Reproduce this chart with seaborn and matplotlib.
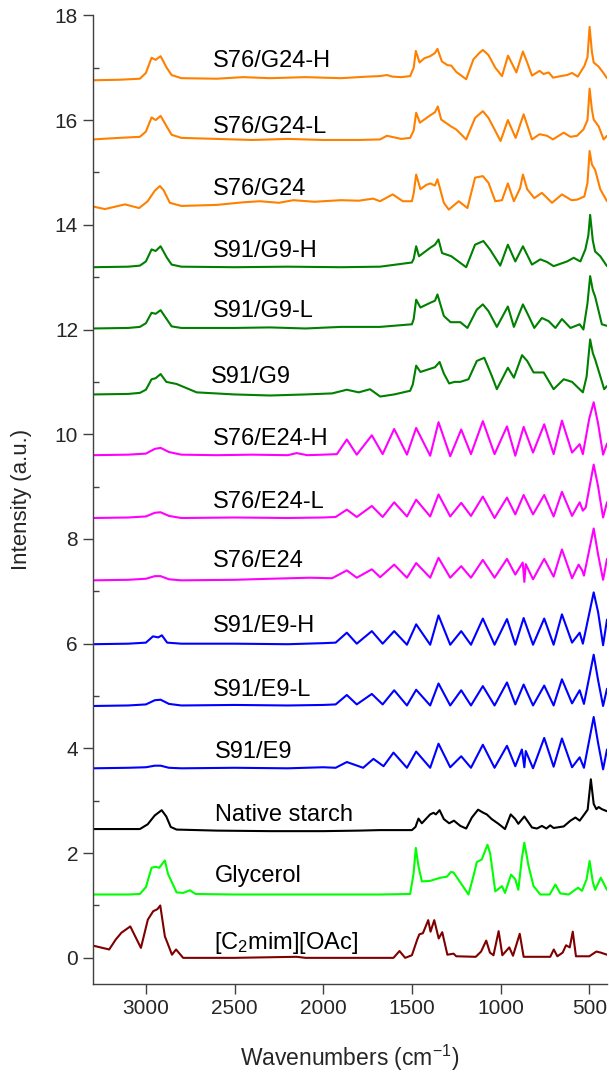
import numpy as np
import pandas as pd
import matplotlib
matplotlib.use("Agg")
import matplotlib.pyplot as plt
import seaborn as sns
from matplotlib.ticker import MultipleLocator

# spectra: (wavenumber, intensity) pairs, already stacked
s76_g24_h = [(3300, 16.76), (3150, 16.77), (3034, 16.79), (3000, 16.9), (2968, 17.19), (2945, 17.15),
             (2917, 17.22), (2883, 17.0), (2855, 16.86), (2800, 16.80), (2600, 16.79), (2452, 16.82),
             (2300, 16.80), (2100, 16.82), (1900, 16.80), (1750, 16.83), (1680, 16.84), (1641, 16.86),
             (1610, 16.83), (1560, 16.82), (1510, 16.84), (1490, 17.0), (1478, 17.32), (1457, 17.10),
             (1430, 17.18), (1397, 17.22), (1370, 17.28), (1356, 17.36), (1331, 17.12), (1300, 17.05),
             (1278, 17.04), (1250, 16.92), (1194, 16.78), (1153, 17.16), (1120, 17.28), (1100, 17.34),
             (1068, 17.24), (1030, 17.0), (992, 16.84), (958, 17.23), (911, 16.91), (874, 17.31),
             (850, 17.1), (823, 16.85), (780, 16.94), (758, 16.88), (729, 16.91), (704, 16.81),
             (660, 16.84), (625, 16.86), (597, 16.90), (565, 16.83), (528, 17.03), (510, 17.2),
             (498, 17.78), (485, 17.3), (475, 17.1), (447, 17.02), (420, 16.9), (400, 16.80)]

s76_g24_l = [(3300, 15.63), (3150, 15.66), (3034, 15.68), (3000, 15.78), (2968, 16.05), (2945, 16.0),
             (2917, 16.08), (2883, 15.88), (2855, 15.72), (2800, 15.66), (2600, 15.64), (2400, 15.62),
             (2200, 15.64), (2000, 15.62), (1800, 15.62), (1680, 15.63), (1641, 15.70), (1560, 15.64),
             (1510, 15.66), (1490, 15.8), (1476, 16.14), (1455, 15.95), (1397, 16.09), (1370, 16.15),
             (1354, 16.26), (1335, 16.01), (1280, 15.88), (1250, 15.82), (1194, 15.63), (1144, 16.04),
             (1100, 16.17), (1068, 16.04), (1000, 15.60), (959, 16.0), (915, 15.66), (870, 16.11),
             (823, 15.63), (780, 15.73), (738, 15.70), (705, 15.63), (644, 15.76), (606, 15.68),
             (569, 15.70), (533, 15.82), (510, 16.0), (498, 16.60), (485, 16.2), (475, 16.01),
             (447, 15.88), (419, 15.63), (400, 15.70)]

s76_g24 = [(3300, 14.35), (3231, 14.30), (3118, 14.39), (3038, 14.32), (2990, 14.45), (2950, 14.65),
           (2921, 14.74), (2900, 14.66), (2865, 14.42), (2800, 14.36), (2600, 14.38), (2450, 14.43),
           (2357, 14.45), (2250, 14.42), (2169, 14.47), (2050, 14.44), (1900, 14.47), (1800, 14.46),
           (1719, 14.50), (1680, 14.45), (1608, 14.58), (1551, 14.45), (1500, 14.45), (1490, 14.6),
           (1476, 14.96), (1452, 14.68), (1420, 14.76), (1397, 14.79), (1370, 14.75), (1356, 14.87),
           (1320, 14.42), (1292, 14.29), (1236, 14.45), (1187, 14.32), (1144, 14.90), (1100, 14.93),
           (1068, 14.80), (1030, 14.45), (992, 14.47), (959, 14.79), (925, 14.45), (890, 14.7),
           (874, 14.96), (850, 14.68), (810, 14.51), (767, 14.61), (710, 14.42), (654, 14.58),
           (600, 14.47), (569, 14.48), (528, 14.54), (510, 14.8), (498, 15.41), (485, 15.15),
           (467, 15.05), (438, 14.68), (400, 14.45)]

s91_g9_h = [(3300, 13.19), (3100, 13.20), (3034, 13.22), (3000, 13.3), (2968, 13.53), (2945, 13.50),
            (2917, 13.59), (2883, 13.38), (2855, 13.24), (2800, 13.20), (2500, 13.19), (2200, 13.20),
            (1900, 13.19), (1680, 13.20), (1500, 13.28), (1490, 13.35), (1476, 13.59), (1460, 13.40),
            (1397, 13.56), (1370, 13.62), (1350, 13.72), (1330, 13.46), (1278, 13.40), (1194, 13.19),
            (1144, 13.62), (1097, 13.69), (1060, 13.53), (1002, 13.22), (959, 13.62), (917, 13.30),
            (874, 13.59), (823, 13.24), (776, 13.34), (738, 13.29), (701, 13.21), (625, 13.30),
            (588, 13.37), (550, 13.30), (522, 13.53), (505, 13.8), (495, 14.19), (480, 13.7),
            (467, 13.49), (438, 13.40), (400, 13.21)]

s91_g9_l = [(3300, 12.02), (3100, 12.03), (3034, 12.05), (3000, 12.12), (2968, 12.32), (2945, 12.30),
            (2917, 12.37), (2883, 12.2), (2855, 12.06), (2800, 12.03), (2500, 12.03), (2300, 12.04),
            (2100, 12.02), (1900, 12.05), (1680, 12.05), (1500, 12.10), (1490, 12.2), (1476, 12.57),
            (1452, 12.42), (1397, 12.51), (1370, 12.55), (1356, 12.67), (1320, 12.26), (1282, 12.14),
            (1227, 12.14), (1187, 12.03), (1134, 12.38), (1100, 12.48), (1068, 12.35), (1021, 12.05),
            (959, 12.44), (925, 12.05), (874, 12.48), (842, 12.26), (810, 12.03), (767, 12.22),
            (729, 12.16), (691, 12.03), (654, 12.20), (606, 12.03), (554, 12.10), (533, 12.0),
            (510, 12.5), (495, 13.02), (480, 12.75), (467, 12.63), (429, 12.10), (400, 12.07)]

s91_g9 = [(3300, 10.76), (3100, 10.77), (3034, 10.79), (3000, 10.85), (2968, 11.05), (2945, 11.07),
          (2917, 11.15), (2885, 11.0), (2827, 10.96), (2714, 10.80), (2500, 10.76), (2300, 10.74),
          (2100, 10.76), (1950, 10.78), (1867, 10.85), (1800, 10.80), (1736, 10.86), (1679, 10.72),
          (1600, 10.76), (1510, 10.83), (1495, 10.95), (1476, 11.31), (1452, 11.19), (1397, 11.25),
          (1370, 11.28), (1344, 11.38), (1320, 11.16), (1290, 10.97), (1260, 11.0), (1227, 11.0),
          (1181, 11.05), (1134, 11.40), (1092, 11.46), (1049, 11.11), (1021, 10.86), (959, 11.27),
          (925, 11.08), (879, 11.51), (850, 11.40), (814, 11.18), (757, 11.18), (701, 10.86),
          (644, 11.05), (597, 11.0), (536, 10.80), (515, 11.1), (495, 11.81), (480, 11.55),
          (467, 11.43), (438, 11.11), (416, 10.86), (400, 10.92)]

s76_e24_h = [(3300, 9.60), (3100, 9.61), (3000, 9.63), (2950, 9.72), (2917, 9.74), (2870, 9.66),
             (2800, 9.61), (2600, 9.60), (2400, 9.61), (2200, 9.60), (2150, 9.64), (2090, 9.60),
             (2000, 9.61), (1923, 9.62), (1867, 9.90), (1811, 9.61), (1726, 9.98), (1665, 9.62),
             (1600, 10.10), (1528, 9.61), (1476, 10.12), (1397, 9.59), (1350, 10.23), (1284, 9.58),
             (1222, 10.09), (1167, 9.62), (1100, 10.25), (1034, 9.62), (964, 10.15), (917, 9.59),
             (870, 10.14), (817, 9.65), (754, 10.19), (701, 9.62), (654, 10.26), (597, 9.65),
             (554, 9.81), (536, 9.62), (500, 10.3), (475, 10.61), (450, 10.2), (422, 9.61), (400, 9.82)]

s76_e24_l = [(3300, 8.40), (3100, 8.41), (3000, 8.43), (2950, 8.50), (2917, 8.51), (2870, 8.44),
             (2800, 8.40), (2500, 8.41), (2200, 8.40), (2000, 8.41), (1930, 8.42), (1867, 8.56),
             (1811, 8.42), (1726, 8.63), (1665, 8.42), (1600, 8.70), (1528, 8.43), (1476, 8.75),
             (1397, 8.43), (1350, 8.85), (1284, 8.43), (1222, 8.69), (1167, 8.44), (1100, 8.81),
             (1034, 8.40), (964, 8.79), (917, 8.47), (870, 8.84), (817, 8.47), (754, 8.84),
             (701, 8.43), (654, 8.90), (597, 8.44), (554, 8.70), (536, 8.54), (520, 8.6),
             (475, 9.42), (450, 9.0), (422, 8.41), (400, 8.70)]

s76_e24 = [(3300, 7.21), (3100, 7.22), (3000, 7.24), (2950, 7.29), (2917, 7.29), (2870, 7.23),
           (2800, 7.21), (2500, 7.22), (2300, 7.24), (2074, 7.26), (1950, 7.25), (1867, 7.40),
           (1811, 7.26), (1726, 7.42), (1679, 7.27), (1600, 7.51), (1528, 7.26), (1476, 7.54),
           (1397, 7.26), (1350, 7.64), (1284, 7.26), (1222, 7.48), (1167, 7.26), (1100, 7.60),
           (1034, 7.26), (964, 7.62), (917, 7.32), (875, 7.55), (866, 7.18), (858, 7.52),
           (817, 7.23), (754, 7.62), (701, 7.28), (654, 7.80), (597, 7.25), (560, 7.51),
           (540, 7.40), (530, 7.30), (475, 8.20), (450, 7.7), (422, 7.22), (400, 7.62)]

s91_e9_h = [(3300, 5.99), (3100, 6.0), (3000, 6.02), (2960, 6.14), (2930, 6.12), (2910, 6.16),
            (2880, 6.02), (2800, 6.0), (2500, 6.0), (2200, 5.99), (2000, 6.01), (1930, 6.02),
            (1867, 6.21), (1811, 6.0), (1726, 6.24), (1665, 6.0), (1600, 6.24), (1528, 5.98),
            (1476, 6.37), (1397, 5.98), (1350, 6.54), (1284, 5.98), (1222, 6.24), (1167, 5.98),
            (1100, 6.48), (1034, 5.98), (964, 6.47), (917, 5.98), (870, 6.49), (817, 5.98),
            (754, 6.48), (701, 5.98), (654, 6.56), (597, 6.02), (554, 6.21), (536, 6.0),
            (475, 6.98), (450, 6.6), (422, 5.97), (400, 6.46)]

s91_e9_l = [(3300, 4.81), (3100, 4.82), (3000, 4.84), (2950, 4.92), (2917, 4.93), (2870, 4.85),
            (2800, 4.82), (2500, 4.83), (2200, 4.82), (2000, 4.83), (1930, 4.84), (1867, 5.02),
            (1811, 4.84), (1726, 5.04), (1665, 4.84), (1600, 5.11), (1528, 4.82), (1476, 5.12),
            (1397, 4.82), (1350, 5.24), (1284, 4.82), (1222, 5.11), (1167, 4.82), (1100, 5.19),
            (1034, 4.82), (964, 5.26), (917, 4.84), (870, 5.22), (817, 4.82), (754, 5.20),
            (701, 4.82), (654, 5.32), (597, 4.86), (554, 5.11), (530, 4.85), (475, 5.79),
            (450, 5.3), (422, 4.81), (400, 5.14)]

s91_e9 = [(3300, 3.62), (3100, 3.63), (3000, 3.64), (2950, 3.67), (2917, 3.67), (2870, 3.63),
          (2800, 3.62), (2500, 3.63), (2200, 3.62), (2000, 3.64), (1930, 3.63), (1867, 3.74),
          (1775, 3.63), (1717, 3.80), (1660, 3.66), (1604, 3.92), (1528, 3.63), (1476, 3.94),
          (1397, 3.63), (1350, 4.09), (1284, 3.64), (1222, 3.85), (1167, 3.63), (1100, 4.07),
          (1034, 3.63), (964, 4.05), (917, 3.66), (880, 3.98), (866, 3.64), (858, 3.95),
          (817, 3.62), (754, 4.20), (701, 3.65), (654, 4.19), (597, 3.64), (554, 3.83),
          (530, 3.63), (475, 4.60), (450, 4.1), (422, 3.60), (400, 3.98)]

native_starch = [(3300, 2.46), (3100, 2.46), (3034, 2.46), (2990, 2.55), (2950, 2.72), (2911, 2.82),
                 (2885, 2.70), (2860, 2.50), (2827, 2.45), (2600, 2.43), (2300, 2.42), (2000, 2.42),
                 (1800, 2.43), (1679, 2.44), (1500, 2.44), (1480, 2.50), (1463, 2.66), (1444, 2.57),
                 (1397, 2.74), (1378, 2.77), (1365, 2.74), (1344, 2.82), (1320, 2.65), (1290, 2.57),
                 (1263, 2.62), (1227, 2.52), (1194, 2.47), (1162, 2.68), (1127, 2.83), (1097, 2.77),
                 (1078, 2.74), (1050, 2.65), (1012, 2.56), (975, 2.46), (943, 2.74), (917, 2.65),
                 (900, 2.56), (866, 2.70), (823, 2.49), (795, 2.47), (767, 2.52), (742, 2.47),
                 (720, 2.53), (701, 2.48), (644, 2.51), (606, 2.62), (578, 2.68), (554, 2.62),
                 (528, 2.74), (509, 2.83), (491, 3.41), (475, 2.94), (460, 2.84), (447, 2.88),
                 (429, 2.84), (400, 2.80)]

glycerol = [(3300, 1.21), (3100, 1.21), (3034, 1.22), (3000, 1.35), (2968, 1.72), (2945, 1.74),
            (2925, 1.72), (2893, 1.86), (2875, 1.60), (2827, 1.25), (2790, 1.24), (2752, 1.29),
            (2720, 1.22), (2500, 1.21), (2200, 1.21), (1900, 1.21), (1680, 1.21), (1510, 1.22),
            (1491, 1.60), (1478, 2.10), (1463, 1.75), (1444, 1.46), (1397, 1.47), (1340, 1.53),
            (1303, 1.55), (1280, 1.64), (1265, 1.63), (1227, 1.44), (1181, 1.21), (1150, 1.60),
            (1134, 1.83), (1106, 1.88), (1074, 2.16), (1059, 2.0), (1030, 1.27), (992, 1.37),
            (975, 1.24), (941, 1.59), (917, 1.50), (900, 1.30), (880, 1.90), (866, 2.20),
            (842, 1.75), (814, 1.37), (776, 1.21), (723, 1.21), (691, 1.40), (663, 1.23),
            (616, 1.21), (563, 1.34), (541, 1.28), (515, 1.5), (498, 1.85), (480, 1.45),
            (467, 1.30), (435, 1.53), (400, 1.30)]

c2mim_oac = [(3300, 0.235), (3207, 0.16), (3170, 0.35), (3138, 0.48), (3088, 0.60), (3028, 0.19),
             (2989, 0.73), (2959, 0.89), (2935, 0.93), (2919, 1.0), (2893, 0.41), (2879, 0.29),
             (2853, 0.06), (2830, 0.16), (2790, 0.0), (2500, 0.0), (2150, 0.02), (2100, 0.0),
             (1700, 0.0), (1604, 0.0), (1570, 0.13), (1538, 0.0), (1500, 0.05), (1470, 0.35),
             (1458, 0.45), (1438, 0.47), (1408, 0.72), (1395, 0.50), (1374, 0.72), (1349, 0.37),
             (1329, 0.49), (1300, 0.06), (1265, 0.08), (1250, 0.03), (1140, 0.02), (1110, 0.12),
             (1081, 0.33), (1060, 0.10), (1040, 0.05), (1011, 0.51), (990, 0.05), (951, 0.20),
             (930, 0.04), (892, 0.46), (870, 0.02), (800, 0.02), (720, 0.02), (700, 0.16),
             (680, 0.03), (650, 0.10), (631, 0.24), (610, 0.20), (593, 0.50), (575, 0.03),
             (500, 0.03), (460, 0.12), (435, 0.10), (400, 0.06)]

names = ["S76/G24-H", "S76/G24-L", "S76/G24", "S91/G9-H", "S91/G9-L", "S91/G9",
         "S76/E24-H", "S76/E24-L", "S76/E24", "S91/E9-H", "S91/E9-L", "S91/E9",
         "Native starch", "Glycerol", "[C$_2$mim][OAc]"]
spectra = [s76_g24_h, s76_g24_l, s76_g24, s91_g9_h, s91_g9_l, s91_g9,
           s76_e24_h, s76_e24_l, s76_e24, s91_e9_h, s91_e9_l, s91_e9,
           native_starch, glycerol, c2mim_oac]
colors = ["#ff8000"] * 3 + ["#008000"] * 3 + ["#ff00ff"] * 3 + ["#0000ff"] * 3 + \
         ["#000000", "#00ff00", "#800000"]

# where the names sit
label_x = [2622, 2622, 2622, 2622, 2622, 2635, 2624, 2622, 2622, 2622, 2622, 2612, 2612, 2612, 2615]
label_y = [17.13, 15.86, 14.68, 13.49, 12.35, 11.09, 9.90, 8.70, 7.57, 6.33, 5.12, 3.93, 2.73, 1.56, 0.29]

sns.set_style("ticks")
plt.rcParams['font.family'] = ['Liberation Sans', 'DejaVu Sans']
plt.rcParams['mathtext.default'] = 'regular'

fig = plt.figure(figsize=(6.09, 10.81), dpi=100)
ax = fig.add_axes([0.1522, 0.0897, 0.8445, 0.8961])

for name, spec, col in zip(names, spectra, colors):
    df = pd.DataFrame(spec, columns=["wn", "I"])
    sns.lineplot(data=df, x="wn", y="I", ax=ax, color=col, lw=1.5, estimator=None, sort=False)

for name, lx, ly in zip(names, label_x, label_y):
    ax.text(lx, ly, name, fontsize=17, ha="left", va="center", color="black")

ax.set_xlim(3300, 400)
ax.set_ylim(-0.5, 18)
ax.set_xticks([3000, 2500, 2000, 1500, 1000, 500])
ax.yaxis.set_major_locator(MultipleLocator(2))
ax.yaxis.set_minor_locator(MultipleLocator(1))
ax.tick_params(axis="both", which="major", direction="out", length=7, width=1,
               color="#404040", labelsize=15, pad=3.5)
ax.tick_params(axis="y", which="minor", direction="in", length=4, width=1, color="#404040")

for side in ["top", "right"]:
    ax.spines[side].set_visible(False)
for side in ["left", "bottom"]:
    ax.spines[side].set_color("#404040")
    ax.spines[side].set_linewidth(1)

ax.set_xlabel("Wavenumbers (cm$^{-1}$)", fontsize=16.5, va="center")
ax.set_ylabel("Intensity (a.u.)", fontsize=16, va="center")
ax.xaxis.set_label_coords(0.5, -0.0764)
ax.yaxis.set_label_coords(-0.1375, 0.5)

fig.savefig("out.png", dpi=100)
